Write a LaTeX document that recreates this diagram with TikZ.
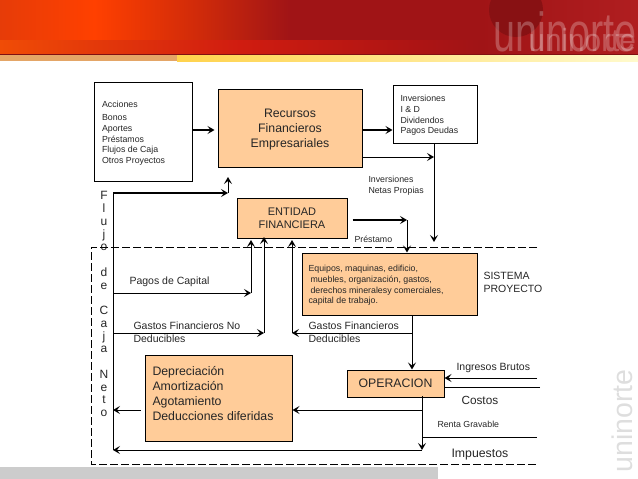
\documentclass[tikz,border=0pt]{standalone}
\usepackage{xcolor}
\usepackage{fontspec}
\setmainfont{Liberation Sans}
\usetikzlibrary{arrows.meta, positioning, calc}
\definecolor{boxfill}{HTML}{FFCC99}
\definecolor{ink}{HTML}{262626}
\definecolor{redA}{HTML}{E63C08}
\definecolor{redB}{HTML}{FF4000}
\definecolor{redC}{HTML}{CF2A0A}
\definecolor{redD}{HTML}{A01416}
\definecolor{redE}{HTML}{B01E20}
\definecolor{redF}{HTML}{F04C06}
\definecolor{redG}{HTML}{D01C10}
\definecolor{redH}{HTML}{AC1414}
\begin{document}
\begin{tikzpicture}[
                x=1pt, y=-1pt,
                >={Stealth[length=7pt,width=8pt,inset=3pt]},
                line width=1pt,
                plainbox/.style={rectangle, draw, fill=white, inner sep=0pt},
                orangebox/.style={rectangle, draw, fill=boxfill, inner sep=0pt, text=ink},
                heavy/.style={line width=2pt},
                txt/.style={inner sep=0pt, anchor=west, align=left, text=ink},
                tiny/.style={txt, font=\fontsize{8.8}{10.8}\selectfont},
                mid/.style={txt, font=\fontsize{10.5}{13}\selectfont},
                big/.style={font=\fontsize{12.3}{15}\selectfont},
                wmark/.style={inner sep=0pt, anchor=base west, transform shape}
            ]
                \useasboundingbox (0,0) rectangle (638,479);

                % Banner
                \shade[left color=redA, right color=redB] (0,0) rectangle (94,55);
                \shade[left color=redB, right color=redC] (94,0) rectangle (200,55);
                \shade[left color=redC, right color=redD] (200,0) rectangle (290,55);
                \fill[redD] (290,0) rectangle (480,55);
                \shade[left color=redD, right color=redE] (480,0) rectangle (638,55);
                \shade[left color=redF, right color=redG] (0,40) rectangle (240,54);
                \shade[left color=redG, right color=redH] (240,40) rectangle (420,54);
                \shade[left color=redH, right color=redD] (420,40) rectangle (480,54);
                \begin{scope}
                    \clip (480,0) rectangle (638,55);
                    \fill[redD!85!black] (516,10) circle (27);
                \end{scope}
                \fill[redD!80!black] (0,54) rectangle (638,55);
                \fill[brown!60!orange!70] (0,55) rectangle (177,61);
                \shade[left color=orange!50!yellow!70, right color=orange!20!yellow!20] (177,55) rectangle (638,61);
                \node[wmark, white, opacity=.25, xscale=.72, font=\fontsize{55}{55}\selectfont] (markA) at (493,52) {uninorte};
                \node[wmark, white, opacity=.25, xscale=.93, font=\fontsize{32}{32}\selectfont] (markB) at (528,52) {uninorte};

                % Bottom band and side mark
                \fill[black!20] (0,467) rectangle (438,479);
                \node[wmark, black!13, rotate=90, font=\fontsize{28.5}{29}\selectfont] (markC) at (632,473) {uninorte};

                % Boxes
                \node[plainbox, minimum width=98pt, minimum height=99pt] (sources) at (143,131.5) {};
                \node[orangebox, minimum width=144pt, minimum height=78pt] (recursos) at (290,128) {};
                \node[plainbox, minimum width=84pt, minimum height=58pt] (usos) at (435,114) {};
                \node[orangebox, minimum width=110pt, minimum height=40pt, align=center, font=\fontsize{11}{13}\selectfont] (entidad) at (292,218.5) {ENTIDAD\\FINANCIERA};
                \node[orangebox, minimum width=175pt, minimum height=62pt] (equipos) at (389.5,284) {};
                \node[orangebox, minimum width=97pt, minimum height=27pt, font=\fontsize{12.3}{15}\selectfont] (operacion) at (395.5,383.5) {OPERACION};
                \node[orangebox, minimum width=147pt, minimum height=86pt] (deprec) at (218.5,398) {};

                % Texts
                \node[txt, big, align=center, anchor=center] (recursosTxt) at (290,130) {Recursos\\Financieros\\Empresariales};
                \node[tiny] (sourcesA) at (101.5,104) {Acciones};
                \node[tiny] (sourcesB) at (101.5,140) {Bonos\\Aportes\\Préstamos\\Flujos de Caja\\Otros Proyectos};
                \node[tiny] (usosTxt) at (400,115.5) {Inversiones\\I \& D\\Dividendos\\Pagos Deudas};
                \node[tiny] (netas) at (368,185.5) {Inversiones\\Netas Propias};
                \node[tiny] (prestamo) at (354,239) {Préstamo};
                \node[tiny] (equiposA) at (308,269) {Equipos, maquinas, edificio,};
                \node[tiny] (equiposB) at (310,280) {muebles, organización, gastos,};
                \node[tiny] (equiposC) at (310,291) {derechos mineralesy comerciales,};
                \node[tiny] (equiposD) at (308,301) {capital de trabajo.};
                \node[mid] (sistema) at (483,282.5) {SISTEMA\\PROYECTO};
                \node[mid] (pagos) at (129,282) {Pagos de Capital};
                \node[mid] (noDed) at (133,332.5) {Gastos Financieros No\\Deducibles};
                \node[mid] (siDed) at (308,332.5) {Gastos Financieros\\Deducibles};
                \node[txt, big] (deprecTxt) at (152,393.5) {Depreciación\\Amortización\\Agotamiento\\Deducciones diferidas};
                \node[mid] (ingresos) at (456,368) {Ingresos Brutos};
                \node[txt, font=\fontsize{11.8}{14}\selectfont] (costos) at (461,400) {Costos};
                \node[tiny] (renta) at (437,424.5) {Renta Gravable};
                \node[txt, font=\fontsize{12.3}{14}\selectfont] (impuestos) at (451,455) {Impuestos};
                \node[inner sep=0pt, anchor=north, align=center, text=ink, font=\fontsize{12}{12.75}\selectfont] (flujo) at (104,191) {F\\l\\u\\j\\o\\ \\d\\e\\ \\C\\a\\j\\a\\ \\N\\e\\t\\o};

                % Junctions
                \coordinate (flujoTop) at (113,193);
                \coordinate (flujoEnd) at (228,193);
                \coordinate (flujoBot) at (113,450);
                \coordinate (pagosL) at (113,293);
                \coordinate (pagosR) at (251,293);
                \coordinate (noDedL) at (113,333);
                \coordinate (noDedR) at (264,333);
                \coordinate (siDedL) at (292,333);
                \coordinate (siDedR) at (412,333);
                \coordinate (opDown) at (422,396);
                \coordinate (opBot) at (422,450);
                \coordinate (opMid) at (422,410);
                \coordinate (rentaL) at (422,437);
                \coordinate (rentaR) at (537,437);
                \coordinate (usosDown) at (434,242);
                \coordinate (prestR) at (407,220);
                \coordinate (ingR) at (537,378);
                \coordinate (costR) at (540,387);
                \coordinate (dashA) at (537,247);
                \coordinate (dashB) at (91,247);
                \coordinate (dashC) at (91,464);
                \coordinate (dashD) at (537,464);

                % Frame of the project
                \draw[dash pattern=on 8pt off 3pt] (dashA) -- (dashB) -- (dashC) -- (dashD);

                % Upper flows
                \draw[heavy, ->, shorten >=3pt] ($(sources.east)+(0,-1.5)$) -- ($(recursos.west)+(0,2)$);
                \draw[heavy, ->] ($(recursos.east)+(0,2)$) -- ($(usos.west)+(0,16)$);
                \draw[->] (recursos.east |- 0,157) -- (434,157);
                \draw[->] (usos.south -| usosDown) -- (usosDown);
                \draw[heavy, ->] ($(entidad.east)+(5,1.5)$) -- (prestR);
                \draw[->] (prestR) -- (prestR |- equipos.north);

                % Net cash flow
                \draw[heavy, ->] (flujoTop) -- (flujoEnd);
                \draw[->] (flujoEnd) -- ++(0,-16);
                \draw (flujoTop) -- (flujoBot);
                \draw[->] (pagosL) -- (pagosR);
                \draw[->, shorten >=1pt] (pagosR) -- (pagosR |- entidad.south);
                \draw[->] (noDedL) -- (noDedR);
                \draw[->, shorten >=-2pt] (noDedR) -- (noDedR |- entidad.south);
                \draw[->] (siDedR) -- (siDedL);
                \draw[->, shorten >=1pt] (siDedL) -- (siDedL |- entidad.south);

                % Operation
                \draw[->] (siDedR |- equipos.south) -- (siDedR |- operacion.north);
                \draw[->] (ingR) -- (ingR -| operacion.east);
                \draw (costR) -- (costR -| operacion.east);
                \draw[->] (opDown) -- (opBot);
                \draw[->] (opBot) -- (flujoBot);
                \draw[->] (opMid) -- (opMid -| deprec.east);
                \draw[->, shorten <=4pt] (deprec.west |- opMid) -- (opMid -| flujoTop);
                \draw (rentaL) -- (rentaR);
            \end{tikzpicture}
\end{document}
